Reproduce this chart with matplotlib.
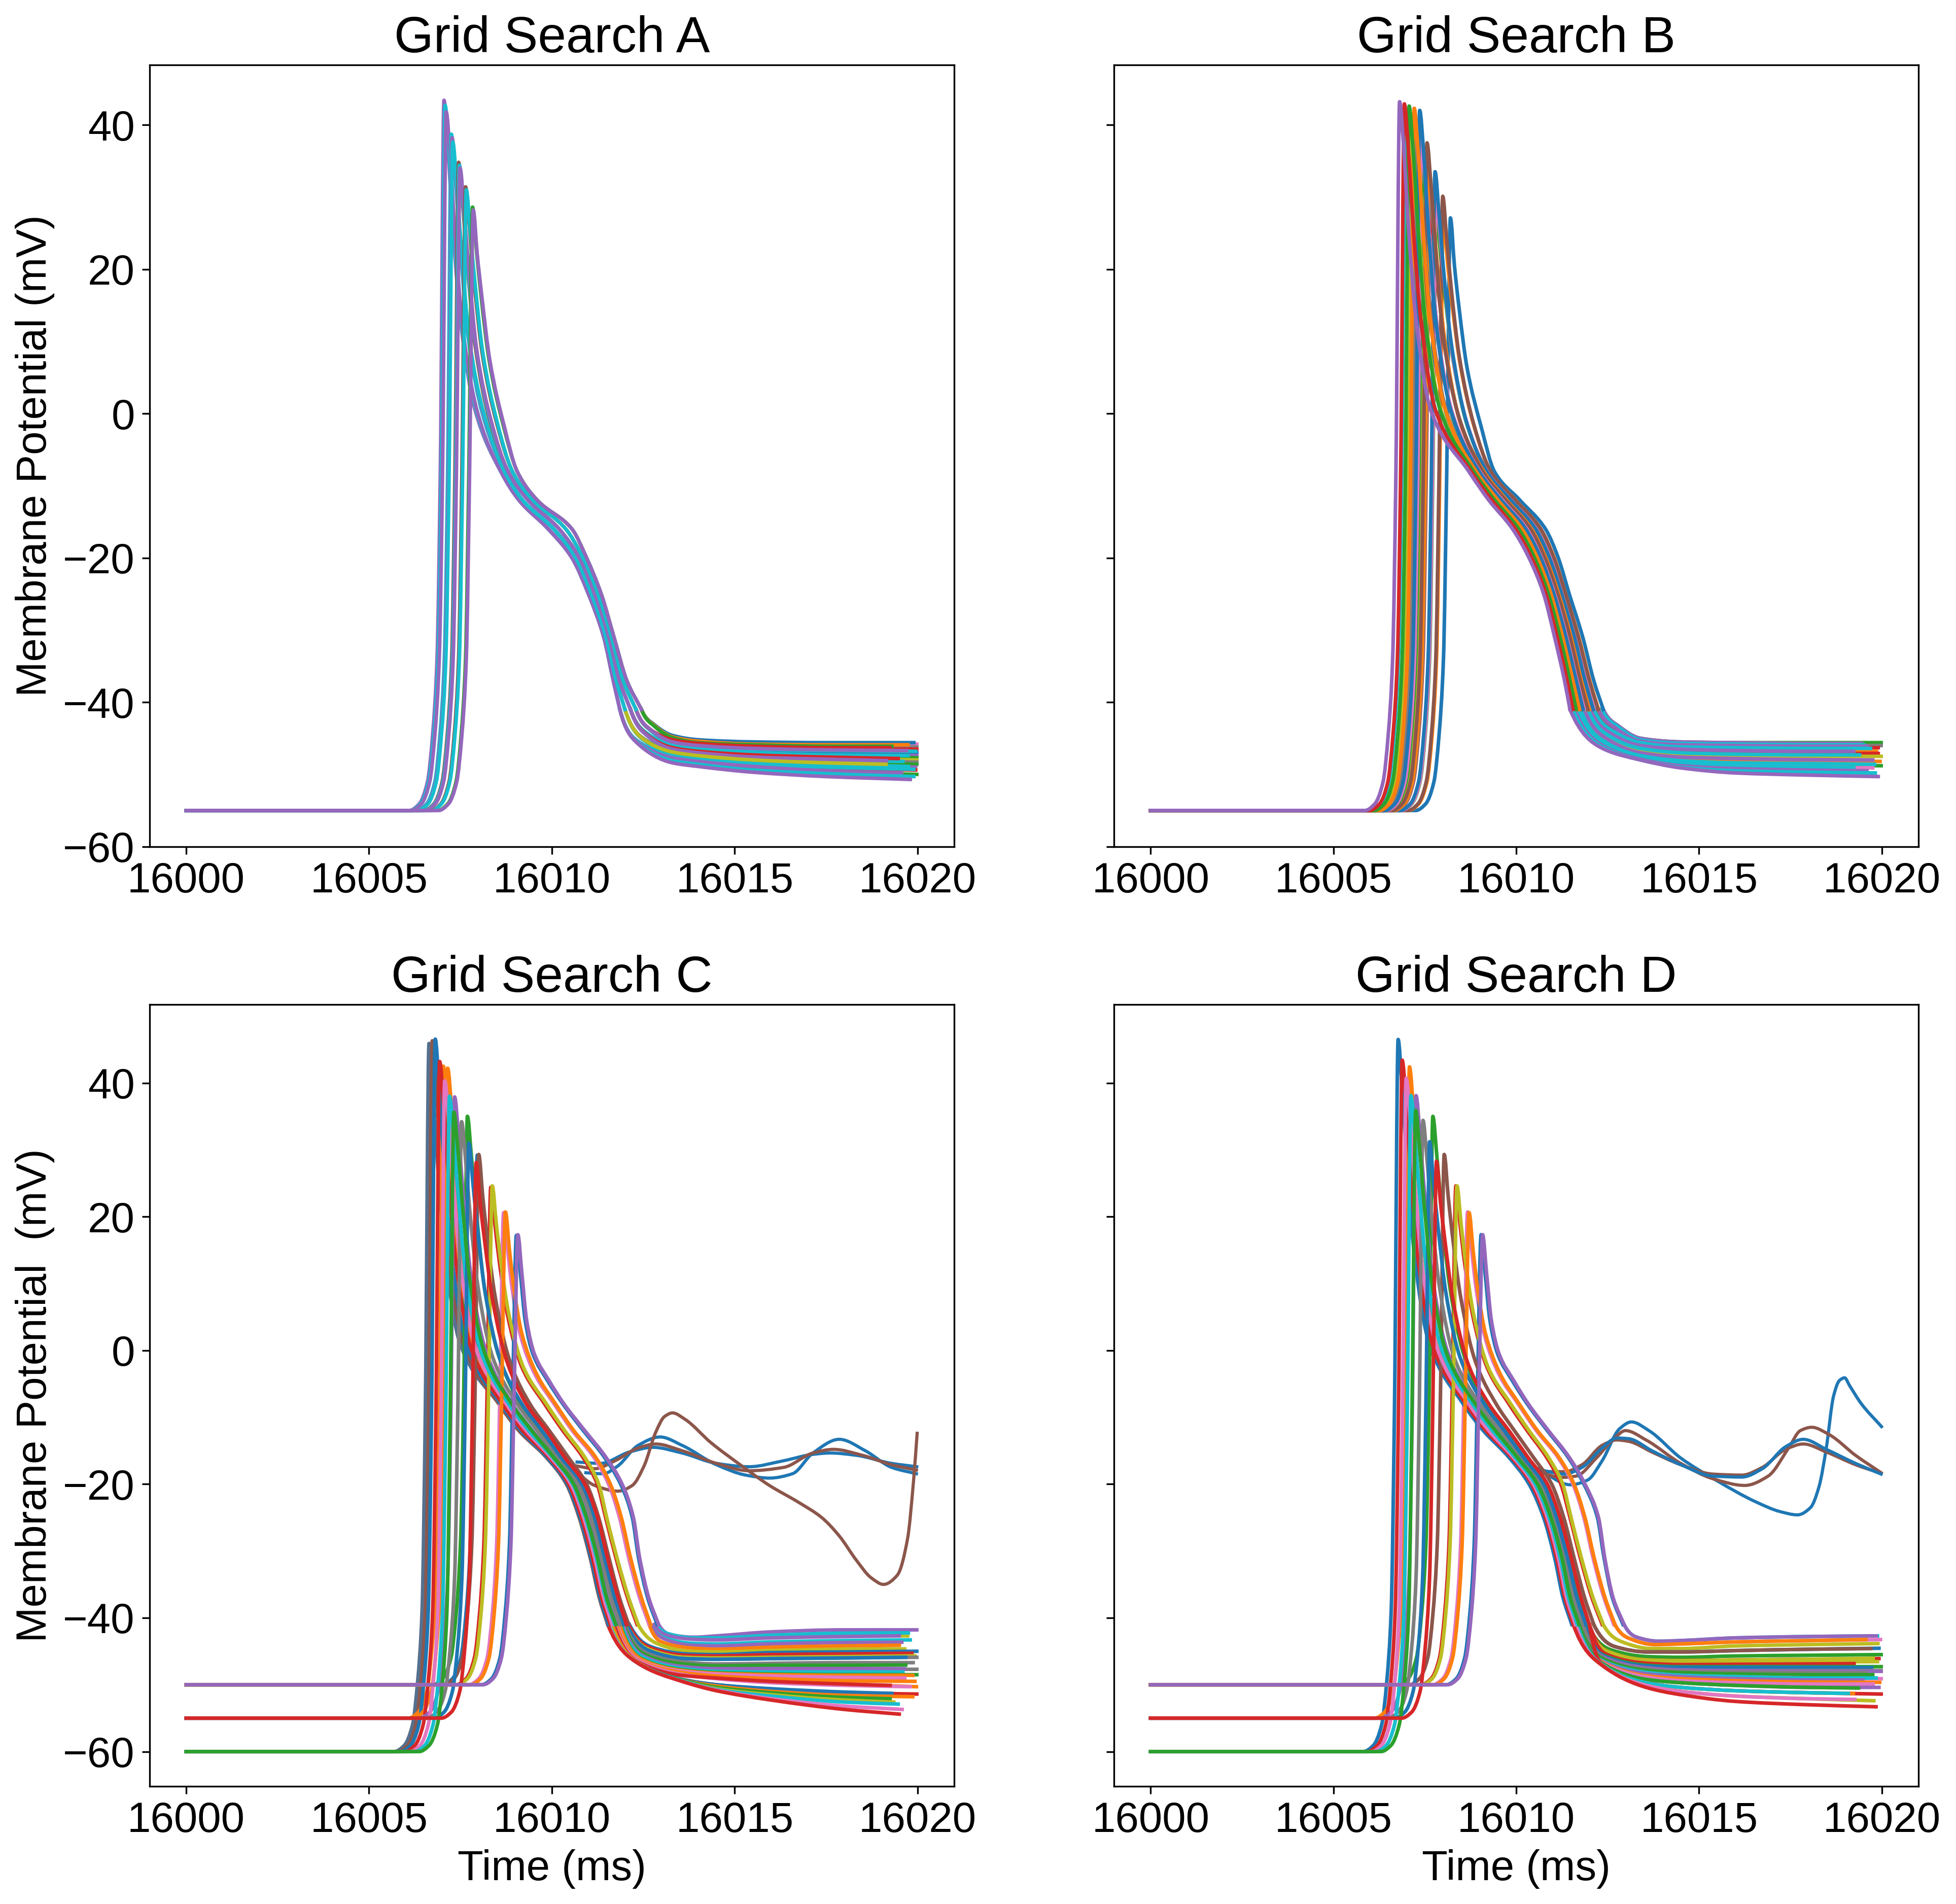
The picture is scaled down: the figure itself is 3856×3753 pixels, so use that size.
import numpy as np
import matplotlib
matplotlib.use('Agg')
import matplotlib.pyplot as plt
from matplotlib.path import Path
from matplotlib.patches import PathPatch

plt.rcParams['font.family'] = ['Liberation Sans', 'DejaVu Sans']

T0 = 16000  # all times below are ms after this

# voltage levels the traces pass through, same for all traces
foot_levels = {
    -60: [-60, -60, -59.1, -56, -49.5, -39, -9],
    -55: [-55, -55, -54.1, -51, -44.5, -34, -8],
    -50: [-50, -50, -49.1, -46, -39.5, -29, -6],
}
repol_levels = [-8, -12, -16, -20, -25, -31, -37, -41]

# ---- Grid Search A ----
a_colors = ['C4', 'C9', 'C4', 'C9', 'C4', 'C9', 'C5', 'C9', 'C4', 'C5', 'C9', 'C2', 'C4']
a_rest = [-55] * 13
a_spike_t = [
    [6.1, 6.37, 6.6, 6.74, 6.86, 6.95, 7.05, 7.16, 7.29, 7.5, 7.9],
    [6.13, 6.4, 6.63, 6.77, 6.89, 6.98, 7.08, 7.19, 7.32, 7.53, 7.93],
    [6.16, 6.43, 6.66, 6.8, 6.92, 7.01, 7.11, 7.22, 7.35, 7.56, 7.96],
    [6.3, 6.57, 6.8, 6.94, 7.06, 7.15, 7.25, 7.36, 7.49, 7.7, 8.1],
    [6.32, 6.59, 6.82, 6.96, 7.08, 7.17, 7.27, 7.38, 7.51, 7.72, 8.12],
    [6.34, 6.61, 6.84, 6.98, 7.1, 7.19, 7.29, 7.4, 7.53, 7.74, 8.14],
    [6.5, 6.77, 7.0, 7.14, 7.26, 7.35, 7.45, 7.56, 7.69, 7.9, 8.3],
    [6.52, 6.79, 7.02, 7.16, 7.28, 7.37, 7.47, 7.58, 7.71, 7.92, 8.32],
    [6.54, 6.81, 7.04, 7.18, 7.3, 7.39, 7.49, 7.6, 7.73, 7.94, 8.34],
    [6.69, 6.96, 7.19, 7.33, 7.45, 7.54, 7.64, 7.75, 7.88, 8.09, 8.49],
    [6.71, 6.98, 7.21, 7.35, 7.47, 7.56, 7.66, 7.77, 7.9, 8.11, 8.51],
    [6.88, 7.15, 7.38, 7.52, 7.64, 7.73, 7.83, 7.94, 8.07, 8.28, 8.68],
    [6.9, 7.17, 7.4, 7.54, 7.66, 7.75, 7.85, 7.96, 8.09, 8.3, 8.7],
]
a_spike_v = [
    [43.4, 36.5, 26, 13, 0.5], [42.7, 36, 25.5, 12.5, 0.5], [41.8, 35.5, 25, 12, 0.3],
    [38.7, 32.5, 23.5, 11, 0], [38.2, 32, 23, 11, 0], [37.6, 31.5, 22.5, 10.5, 0],
    [34.8, 29, 20.5, 9.5, -1], [34.4, 28.5, 20, 9.5, -1], [34.0, 28, 20, 9, -1],
    [31.4, 25.5, 18, 8.5, -1.3], [31.0, 25, 18, 8.5, -1.3],
    [28.6, 22.5, 16, 7.5, -1.8], [28.2, 22, 16, 7.5, -1.8],
]
a_repol_t = [
    [8.6, 9.1, 9.9, 10.55, 11.0, 11.42, 11.68, 11.86],
    [8.6, 9.1, 9.9, 10.55, 11.0, 11.42, 11.68, 11.86],
    [8.6, 9.1, 9.9, 10.55, 11.0, 11.42, 11.68, 11.86],
    [8.7, 9.2, 10.05, 10.65, 11.08, 11.48, 11.76, 12.0],
    [8.7, 9.2, 10.05, 10.65, 11.08, 11.48, 11.76, 12.0],
    [8.7, 9.2, 10.05, 10.65, 11.08, 11.48, 11.76, 12.0],
    [8.8, 9.35, 10.2, 10.75, 11.17, 11.56, 11.85, 12.15],
    [8.8, 9.35, 10.2, 10.75, 11.17, 11.56, 11.85, 12.15],
    [8.8, 9.35, 10.2, 10.75, 11.17, 11.56, 11.85, 12.15],
    [8.92, 9.48, 10.38, 10.85, 11.26, 11.63, 11.95, 12.3],
    [8.92, 9.48, 10.38, 10.85, 11.26, 11.63, 11.95, 12.3],
    [9.05, 9.6, 10.55, 10.95, 11.35, 11.7, 12.05, 12.45],
    [9.05, 9.6, 10.55, 10.95, 11.35, 11.7, 12.05, 12.45],
]
a_tail_grid = [14, 15.5, 17.5]
# long tails first, the short ones sit on top of them
a_tail_colors = ['C6', 'C7', 'C3', 'C0', 'C4', 'C2', 'C8', 'C7', 'C2', 'C4', 'C3', 'C2',
                 'C0', 'C9', 'C9', 'C9', 'C9', 'C9', 'C4', 'C9', 'C4',
                 'C1', 'C2', 'C3', 'C4', 'C3', 'C4', 'C8']
a_tail_end = [19.98, 19.98, 19.98, 19.98, 19.98, 19.98, 19.98, 19.98, 19.98, 19.95, 19.95, 19.98,
              19.9, 19.95, 19.74, 19.6, 19.75, 19.9, 19.56, 19.9, 19.8,
              19.74, 19.3, 19.24, 19.7, 19.47, 19.15, 19.14]
a_tail_head_t = [
    [12.45, 12.8, 13.3], [12.45, 12.8, 13.3], [12.3, 12.7, 13.3], [12.3, 12.7, 13.3],
    [12.15, 12.6, 13.3], [12.15, 12.6, 13.3], [12.15, 12.6, 13.3], [12.0, 12.5, 13.3],
    [12.0, 12.5, 13.3], [12.0, 12.5, 13.3], [11.86, 12.3, 13.3], [11.86, 12.3, 13.3],
    [12.45, 12.8, 13.3], [12.3, 12.7, 13.3], [12.15, 12.6, 13.3], [12.15, 12.6, 13.3],
    [12.0, 12.5, 13.3], [11.86, 12.3, 13.3], [11.86, 12.3, 13.3], [11.86, 12.3, 13.3],
    [11.86, 12.3, 13.3], [12.45, 12.8, 13.3], [12.45, 12.8, 13.3], [12.3, 12.7, 13.3],
    [12.3, 12.7, 13.3], [12.15, 12.6, 13.3], [12.15, 12.6, 13.3], [12.0, 12.5, 13.3],
]
a_tail_v = [
    [-41, -43.2, -44.7, -45.3, -45.7, -45.8, -45.8],
    [-41, -43.3, -45.0, -45.6, -46.0, -46.2, -46.2],
    [-41, -43.8, -45.4, -45.9, -46.3, -46.4, -46.5],
    [-41, -43.9, -45.7, -46.2, -46.6, -46.9, -47.0],
    [-41, -44.3, -46.0, -46.5, -47.0, -47.3, -47.4],
    [-41, -44.4, -46.2, -46.7, -47.2, -47.5, -47.7],
    [-41, -44.5, -46.4, -46.9, -47.5, -47.8, -48.0],
    [-41, -45.0, -46.7, -47.2, -47.7, -48.1, -48.3],
    [-41, -45.1, -46.9, -47.4, -48.0, -48.4, -48.6],
    [-41, -45.2, -47.2, -47.7, -48.3, -48.7, -49.0],
    [-41, -45.2, -47.5, -48.0, -48.7, -49.1, -49.4],
    [-41, -45.3, -47.9, -48.4, -49.1, -49.6, -50.0],
    [-41, -43.1, -44.6, -45.2, -45.5, -45.6, -45.6],
    [-41, -43.9, -45.6, -46.1, -46.5, -46.7, -46.8],
    [-41, -44.3, -46.0, -46.5, -47.0, -47.3, -47.4],
    [-41, -44.6, -46.6, -47.1, -47.6, -48.0, -48.2],
    [-41, -45.2, -47.1, -47.6, -48.2, -48.6, -48.9],
    [-41, -45.2, -47.4, -47.9, -48.6, -49.0, -49.3],
    [-41, -45.3, -47.7, -48.2, -48.9, -49.5, -49.8],
    [-41, -45.4, -48.1, -48.6, -49.4, -49.9, -50.3],
    [-41, -45.5, -48.4, -48.9, -49.7, -50.3, -50.7],
    [-41, -43.2, -44.8, -45.4, -45.8, -45.9, -45.9],
    [-41, -43.3, -44.9, -45.6, -45.9, -46.1, -46.1],
    [-41, -43.8, -45.2, -45.7, -46.1, -46.3, -46.3],
    [-41, -43.8, -45.5, -46.0, -46.4, -46.6, -46.7],
    [-41, -44.5, -46.3, -46.8, -47.3, -47.6, -47.8],
    [-41, -44.6, -46.5, -47.0, -47.6, -47.9, -48.1],
    [-41, -45.1, -46.9, -47.4, -48.0, -48.4, -48.6],
]

# ---- Grid Search B ----
b_colors = ['C0', 'C1', 'C2', 'C3', 'C4', 'C5', 'C6', 'C7', 'C8', 'C9',
            'C0', 'C1', 'C2', 'C3', 'C4', 'C5', 'C6', 'C7', 'C8', 'C9',
            'C0', 'C1', 'C2', 'C3', 'C4']
b_rest = [-55] * 25
b_spike_t = [
    [7.25, 7.52, 7.75, 7.89, 8.01, 8.1, 8.2, 8.31, 8.44, 8.65, 9.05],
    [7.06, 7.33, 7.56, 7.7, 7.82, 7.91, 8.01, 8.12, 8.25, 8.46, 8.86],
    [6.87, 7.14, 7.37, 7.51, 7.63, 7.72, 7.82, 7.93, 8.06, 8.27, 8.67],
    [6.69, 6.96, 7.19, 7.33, 7.45, 7.54, 7.64, 7.75, 7.88, 8.09, 8.49],
    [6.52, 6.79, 7.02, 7.16, 7.28, 7.37, 7.47, 7.58, 7.71, 7.92, 8.32],
    [7.04, 7.31, 7.54, 7.68, 7.8, 7.89, 7.99, 8.1, 8.23, 8.44, 8.84],
    [6.86, 7.13, 7.36, 7.5, 7.62, 7.71, 7.81, 7.92, 8.05, 8.26, 8.66],
    [6.68, 6.95, 7.18, 7.32, 7.44, 7.53, 7.63, 7.74, 7.87, 8.08, 8.48],
    [6.51, 6.78, 7.01, 7.15, 7.27, 7.36, 7.46, 7.57, 7.7, 7.91, 8.31],
    [6.35, 6.62, 6.85, 6.99, 7.11, 7.2, 7.3, 7.41, 7.54, 7.75, 8.15],
    [6.83, 7.1, 7.33, 7.47, 7.59, 7.68, 7.78, 7.89, 8.02, 8.23, 8.63],
    [6.66, 6.93, 7.16, 7.3, 7.42, 7.51, 7.61, 7.72, 7.85, 8.06, 8.46],
    [6.49, 6.76, 6.99, 7.13, 7.25, 7.34, 7.44, 7.55, 7.68, 7.89, 8.29],
    [6.34, 6.61, 6.84, 6.98, 7.1, 7.19, 7.29, 7.4, 7.53, 7.74, 8.14],
    [6.19, 6.46, 6.69, 6.83, 6.95, 7.04, 7.14, 7.25, 7.38, 7.59, 7.99],
    [6.61, 6.88, 7.11, 7.25, 7.37, 7.46, 7.56, 7.67, 7.8, 8.01, 8.41],
    [6.46, 6.73, 6.96, 7.1, 7.22, 7.31, 7.41, 7.52, 7.65, 7.86, 8.26],
    [6.31, 6.58, 6.81, 6.95, 7.07, 7.16, 7.26, 7.37, 7.5, 7.71, 8.11],
    [6.17, 6.44, 6.67, 6.81, 6.93, 7.02, 7.12, 7.23, 7.36, 7.57, 7.97],
    [6.02, 6.29, 6.52, 6.66, 6.78, 6.87, 6.97, 7.08, 7.21, 7.42, 7.82],
    [6.41, 6.68, 6.91, 7.05, 7.17, 7.26, 7.36, 7.47, 7.6, 7.81, 8.21],
    [6.26, 6.53, 6.76, 6.9, 7.02, 7.11, 7.21, 7.32, 7.45, 7.66, 8.06],
    [6.12, 6.39, 6.62, 6.76, 6.88, 6.97, 7.07, 7.18, 7.31, 7.52, 7.92],
    [5.99, 6.26, 6.49, 6.63, 6.75, 6.84, 6.94, 7.05, 7.18, 7.39, 7.79],
    [5.86, 6.13, 6.36, 6.5, 6.62, 6.71, 6.81, 6.92, 7.05, 7.26, 7.66],
]
b_spike_v = [
    [27.1, 20.5, 14.5, 6.5, -2], [27.7, 21, 15, 7, -2], [28.5, 22, 16, 7.5, -1.8],
    [29.2, 23, 16.5, 8, -1.6], [30, 24, 17, 8, -1.5], [30.1, 24, 17, 8, -1.5],
    [30.6, 24.5, 17.5, 8, -1.4], [31.3, 25.5, 18, 8.5, -1.3], [32, 26, 18.5, 9, -1.2],
    [32.8, 27, 19, 9, -1.1], [33.5, 27.5, 19.5, 9.5, -1], [34, 28, 20, 9.5, -1],
    [34.5, 28.5, 20.5, 9.5, -0.9], [35.1, 29, 21, 10, -0.7], [35.8, 30, 21.5, 10, -0.5],
    [37.5, 31.5, 22.5, 10.5, -0.1], [37.8, 32, 23, 11, 0], [38.3, 32, 23, 11, 0],
    [38.8, 32.5, 23.5, 11, 0], [39.2, 33, 23.5, 11.5, 0.1], [42, 36, 25.5, 12.5, 0.5],
    [42.3, 36, 25.5, 12.5, 0.5], [42.6, 36.5, 26, 12.5, 0.5], [42.9, 36.5, 26, 13, 0.5],
    [43.2, 37, 26, 13, 0.5],
]
b_repol_t = [
    [9.4, 10.1, 10.8, 11.15, 11.45, 11.82, 12.12, 12.38],
    [9.3, 9.98, 10.67, 11.04, 11.35, 11.71, 12.01, 12.25],
    [9.21, 9.87, 10.56, 10.93, 11.26, 11.61, 11.9, 12.13],
    [9.12, 9.76, 10.44, 10.83, 11.17, 11.51, 11.8, 12.02],
    [9.03, 9.65, 10.32, 10.73, 11.08, 11.41, 11.7, 11.9],
    [9.3, 9.97, 10.67, 11.03, 11.35, 11.7, 12.0, 12.24],
    [9.2, 9.86, 10.55, 10.93, 11.25, 11.6, 11.9, 12.13],
    [9.12, 9.76, 10.44, 10.83, 11.17, 11.51, 11.8, 12.02],
    [9.03, 9.65, 10.32, 10.73, 11.08, 11.41, 11.7, 11.9],
    [8.95, 9.55, 10.22, 10.63, 11.0, 11.32, 11.6, 11.79],
    [9.19, 9.85, 10.53, 10.91, 11.24, 11.59, 11.88, 12.11],
    [9.11, 9.74, 10.42, 10.81, 11.16, 11.5, 11.78, 12.0],
    [9.02, 9.63, 10.31, 10.71, 11.07, 11.4, 11.68, 11.88],
    [8.94, 9.54, 10.21, 10.62, 10.99, 11.31, 11.59, 11.78],
    [8.87, 9.45, 10.12, 10.54, 10.92, 11.23, 11.51, 11.69],
    [9.08, 9.71, 10.39, 10.78, 11.13, 11.47, 11.75, 11.96],
    [9.0, 9.62, 10.29, 10.69, 11.05, 11.38, 11.66, 11.86],
    [8.92, 9.52, 10.19, 10.61, 10.97, 11.3, 11.58, 11.76],
    [8.85, 9.44, 10.1, 10.53, 10.9, 11.22, 11.5, 11.67],
    [8.78, 9.35, 10.01, 10.45, 10.83, 11.14, 11.42, 11.58],
    [8.98, 9.59, 10.26, 10.67, 11.03, 11.36, 11.64, 11.83],
    [8.9, 9.5, 10.16, 10.58, 10.95, 11.27, 11.55, 11.73],
    [8.83, 9.41, 10.07, 10.5, 10.88, 11.2, 11.47, 11.64],
    [8.76, 9.33, 9.98, 10.42, 10.81, 11.12, 11.39, 11.55],
    [8.7, 9.25, 9.9, 10.35, 10.75, 11.05, 11.32, 11.47],
]
b_tail_grid = [14.5, 16, 18]
b_tail_colors = ['C2', 'C7', 'C3', 'C1', 'C3', 'C8', 'C1', 'C2', 'C8', 'C6',
                 'C4', 'C9', 'C4', 'C9', 'C4', 'C9', 'C4', 'C9', 'C9', 'C4', 'C9', 'C4']
b_tail_end = [19.98, 19.98, 19.9, 19.85, 19.9, 19.98, 19.95, 19.98, 19.6, 19.75,
              19.44, 19.5, 19.6, 19.69, 19.23, 19.39, 19.75, 19.8, 19.23, 19.59, 19.82, 19.9]
b_tail_head_t = [
    [12.38, 12.8, 13.4], [12.3, 12.75, 13.4], [12.2, 12.7, 13.4], [12.1, 12.6, 13.4],
    [12.0, 12.55, 13.4], [11.95, 12.5, 13.4], [11.85, 12.45, 13.4], [11.75, 12.4, 13.4],
    [11.7, 12.35, 13.4], [11.65, 12.35, 13.4],
    [12.38, 12.8, 13.4], [12.34, 12.78, 13.4], [12.25, 12.72, 13.4], [12.13, 12.65, 13.4],
    [12.02, 12.58, 13.4], [11.96, 12.52, 13.4], [11.86, 12.46, 13.4], [11.76, 12.4, 13.4],
    [11.67, 12.36, 13.4], [11.6, 12.36, 13.4], [11.55, 12.36, 13.4], [11.47, 12.36, 13.4],
]
b_tail_v = [
    [-41, -43.3, -45.0, -45.5, -45.6, -45.6, -45.6],
    [-41, -43.5, -45.3, -45.8, -45.9, -46.0, -46.0],
    [-41, -43.8, -45.5, -46.1, -46.2, -46.3, -46.3],
    [-41, -44.1, -45.9, -46.5, -46.7, -46.8, -46.8],
    [-41, -44.4, -46.2, -46.8, -47.0, -47.1, -47.1],
    [-41, -44.7, -46.6, -47.2, -47.4, -47.5, -47.5],
    [-41, -45.1, -47.1, -47.7, -48.0, -48.1, -48.2],
    [-41, -45.5, -47.5, -48.2, -48.5, -48.7, -48.8],
    [-41, -45.7, -47.7, -48.5, -48.8, -49.0, -49.1],
    [-41, -45.8, -47.8, -48.5, -48.8, -49.0, -49.1],
    [-41, -43.3, -45.0, -45.5, -45.6, -45.7, -45.7],
    [-41, -43.4, -45.2, -45.7, -45.8, -45.9, -45.9],
    [-41, -43.6, -45.4, -45.9, -46.0, -46.1, -46.1],
    [-41, -44.0, -45.6, -46.2, -46.3, -46.4, -46.4],
    [-41, -44.3, -46.0, -46.5, -46.7, -46.8, -46.8],
    [-41, -44.6, -46.4, -47.0, -47.2, -47.3, -47.3],
    [-41, -45.0, -47.0, -47.6, -47.8, -47.95, -48.0],
    [-41, -45.4, -47.4, -48.1, -48.4, -48.5, -48.6],
    [-41, -45.8, -47.7, -48.5, -48.9, -49.0, -49.1],
    [-41, -46.0, -47.9, -48.8, -49.2, -49.4, -49.5],
    [-41, -46.2, -48.0, -49.0, -49.5, -49.7, -49.8],
    [-41, -46.4, -48.0, -49.1, -49.8, -50.1, -50.3],
]

# ---- Grid Search C ----
c_colors = ['#55708f', 'C5', 'C1', 'C3', 'C6', 'C0', 'C0',
            'C0', 'C1', 'C2', 'C3', 'C4', 'C5', 'C6', 'C7', 'C8', 'C9',
            'C0', 'C1', 'C2', 'C3', 'C4']
c_rest = [-60, -60, -55, -50, -50, -50, -50,
          -60, -55, -50, -60, -55, -50, -60, -55, -50, -60,
          -55, -50, -60, -55, -50]
c_spike_t = [
    [5.69, 5.96, 6.19, 6.33, 6.45, 6.54, 6.64, 6.75, 6.88, 7.09, 7.49],
    [5.78, 6.05, 6.28, 6.42, 6.54, 6.63, 6.73, 6.84, 6.97, 7.18, 7.58],
    [6.08, 6.35, 6.58, 6.72, 6.84, 6.93, 7.03, 7.14, 7.27, 7.48, 7.88],
    [7.38, 7.65, 7.88, 8.02, 8.14, 8.23, 8.33, 8.44, 8.57, 8.78, 9.18],
    [7.73, 8.0, 8.23, 8.37, 8.49, 8.58, 8.68, 8.79, 8.92, 9.13, 9.53],
    [8.08, 8.35, 8.58, 8.72, 8.84, 8.93, 9.03, 9.14, 9.27, 9.48, 9.88],
    [7.01, 7.28, 7.51, 7.65, 7.77, 7.86, 7.96, 8.07, 8.2, 8.41, 8.81],
    [5.86, 6.13, 6.36, 6.5, 6.62, 6.71, 6.81, 6.92, 7.05, 7.26, 7.66],
    [6.2, 6.47, 6.7, 6.84, 6.96, 7.05, 7.15, 7.26, 7.39, 7.6, 8.0],
    [6.74, 7.01, 7.24, 7.38, 7.5, 7.59, 7.69, 7.8, 7.93, 8.14, 8.54],
    [5.98, 6.25, 6.48, 6.62, 6.74, 6.83, 6.93, 7.04, 7.17, 7.38, 7.78],
    [6.39, 6.66, 6.89, 7.03, 7.15, 7.24, 7.34, 7.45, 7.58, 7.79, 8.19],
    [7.05, 7.32, 7.55, 7.69, 7.81, 7.9, 8.0, 8.11, 8.24, 8.45, 8.85],
    [6.12, 6.39, 6.62, 6.76, 6.88, 6.97, 7.07, 7.18, 7.31, 7.52, 7.92],
    [6.58, 6.85, 7.08, 7.22, 7.34, 7.43, 7.53, 7.64, 7.77, 7.98, 8.38],
    [7.42, 7.69, 7.92, 8.06, 8.18, 8.27, 8.37, 8.48, 8.61, 8.82, 9.22],
    [6.25, 6.52, 6.75, 6.89, 7.01, 7.1, 7.2, 7.31, 7.44, 7.65, 8.05],
    [6.78, 7.05, 7.28, 7.42, 7.54, 7.63, 7.73, 7.84, 7.97, 8.18, 8.58],
    [7.78, 8.05, 8.28, 8.42, 8.54, 8.63, 8.73, 8.84, 8.97, 9.18, 9.58],
    [6.37, 6.64, 6.87, 7.01, 7.13, 7.22, 7.32, 7.43, 7.56, 7.77, 8.17],
    [6.98, 7.25, 7.48, 7.62, 7.74, 7.83, 7.93, 8.04, 8.17, 8.38, 8.78],
    [8.12, 8.39, 8.62, 8.76, 8.88, 8.97, 9.07, 9.18, 9.31, 9.52, 9.92],
]
c_spike_v = [
    [45.9, 38.5, 27.5, 14, 1], [46.3, 39, 28, 14, 1], [42.5, 36, 25.5, 12.5, 0.5],
    [24.4, 19, 13, 5.5, -2.5], [20.6, 15, 9, 2.5, -3.5], [17.2, 11.5, 4.5, -0.5, -4.5],
    [29.2, 23, 16.5, 8, -1.6],
    [46.55, 39, 28, 14, 1], [42.2, 36, 25.5, 12.5, 0.5], [35, 29, 21, 10, -0.7],
    [43.2, 37, 26, 13, 0.5], [37.9, 32, 23, 11, 0], [29.3, 23, 16.5, 8, -1.6],
    [40.3, 34.5, 24.5, 12, 0.3], [34.2, 28.5, 20, 9.5, -1], [24.6, 19, 13, 5.5, -2.5],
    [38, 32, 23, 11, 0], [31, 25, 18, 8.5, -1.3], [20.7, 15, 9, 2.5, -3.5],
    [35.6, 30, 21.5, 10, -0.5], [28.1, 22, 16, 7.5, -1.8], [17.3, 11.5, 4.5, -0.5, -4.5],
]
c_repol_t = [
    [8.55, 9.1, 9.85, 10.4, 10.75, 11.05, 11.3, 11.53],
    [8.55, 9.1, 9.85, 10.4, 10.75, 11.05, 11.3, 11.53],
    [8.72, 9.27, 9.96, 10.5, 10.85, 11.15, 11.4, 11.64],
    [9.8, 10.3, 10.85, 11.24, 11.47, 11.75, 12.07, 12.33],
    [10.06, 10.56, 11.15, 11.55, 11.85, 12.1, 12.4, 12.66],
    [10.3, 10.86, 11.44, 11.88, 12.2, 12.37, 12.62, 12.88],
    [9.35, 9.88, 10.4, 10.92, 11.26, 11.54, 11.83, 12.07],
    [8.6, 9.15, 9.87, 10.42, 10.77, 11.07, 11.32, 11.55],
    [8.8, 9.35, 10.0, 10.55, 10.9, 11.2, 11.45, 11.7],
    [9.15, 9.7, 10.23, 10.8, 11.15, 11.42, 11.7, 11.95],
    [8.65, 9.2, 9.92, 10.46, 10.81, 11.11, 11.36, 11.6],
    [8.92, 9.47, 10.07, 10.62, 10.97, 11.27, 11.52, 11.77],
    [9.4, 9.93, 10.45, 10.95, 11.28, 11.56, 11.85, 12.1],
    [8.75, 9.3, 9.97, 10.52, 10.87, 11.17, 11.42, 11.65],
    [9.05, 9.6, 10.15, 10.72, 11.07, 11.36, 11.62, 11.87],
    [9.85, 10.35, 10.9, 11.28, 11.5, 11.78, 12.1, 12.36],
    [8.82, 9.37, 10.02, 10.57, 10.92, 11.22, 11.47, 11.72],
    [9.18, 9.73, 10.25, 10.82, 11.17, 11.44, 11.72, 11.97],
    [10.1, 10.6, 11.2, 11.6, 11.9, 12.15, 12.45, 12.7],
    [8.9, 9.45, 10.05, 10.6, 10.95, 11.25, 11.5, 11.75],
    [9.3, 9.85, 10.35, 10.9, 11.25, 11.52, 11.81, 12.04],
    [10.33, 10.9, 11.48, 11.92, 12.23, 12.4, 12.65, 12.92],
]
c_tail_grid = [14.5, 16, 18]
c_tail_colors = ['C4', 'C8', 'C9', 'C4', 'C9', 'C4', 'C1', 'C8', 'C0', 'C3', 'C8', 'C7', 'C0',
                 'C7', 'C2', 'C7', 'C4', 'C9', 'C2', 'C1', 'C6', 'C1', 'C1', 'C6', 'C3',
                 'C3', 'C0', 'C1', 'C2', 'C8', 'C9', 'C6', 'C3']
c_tail_end = [19.98, 19.73, 19.75, 19.5, 19.8, 19.57, 19.5, 19.65, 19.98, 19.85, 19.93, 19.98, 19.68,
              19.88, 19.68, 19.98, 19.65, 19.6, 19.98, 19.87, 19.65, 19.93, 19.97, 19.8, 19.25,
              19.98, 19.3, 19.87, 19.25, 19.35, 19.47, 19.58, 19.5]
c_tail_head_t = [
    [12.92, 13.24, 13.88], [12.8, 13.15, 13.85], [12.85, 13.2, 13.88], [12.8, 13.15, 13.85],
    [12.7, 13.1, 13.82], [12.7, 13.1, 13.82], [12.66, 13.0, 13.8], [12.36, 12.95, 13.75],
    [12.12, 12.75, 13.7], [12.1, 12.7, 13.65], [12.05, 12.7, 13.65], [12.05, 12.7, 13.65], [12.05, 12.7, 13.65],
    [12.0, 12.6, 13.6], [11.97, 12.55, 13.6], [11.95, 12.5, 13.6], [11.95, 12.5, 13.6], [11.9, 12.5, 13.6],
    [11.87, 12.45, 13.6], [11.85, 12.45, 13.6], [11.8, 12.4, 13.6], [11.77, 12.4, 13.6], [11.75, 12.4, 13.6],
    [11.72, 12.4, 13.6], [11.7, 12.36, 13.56], [11.7, 12.36, 13.56], [11.65, 12.36, 13.56], [11.65, 12.36, 13.56],
    [11.6, 12.36, 13.56], [11.6, 12.36, 13.56], [11.57, 12.36, 13.56], [11.55, 12.36, 13.56], [11.53, 12.36, 13.56],
]
c_tail_v = [
    [-41, -42.5, -42.9, -42.7, -42.1, -41.8, -41.8],
    [-41, -42.6, -43.1, -43.2, -42.9, -42.7, -42.7],
    [-41, -42.4, -43.0, -43.0, -42.6, -42.3, -42.25],
    [-41, -42.6, -43.2, -43.3, -43.0, -42.8, -42.7],
    [-41, -43.0, -43.8, -43.9, -43.6, -43.4, -43.3],
    [-41, -43.2, -44.1, -44.2, -43.9, -43.7, -43.65],
    [-41, -43.6, -44.5, -44.7, -44.4, -44.2, -44.1],
    [-41, -44.0, -45.0, -45.1, -44.9, -44.7, -44.65],
    [-41, -44.4, -45.4, -45.5, -45.2, -45.1, -45.0],
    [-41, -44.5, -45.6, -45.7, -45.5, -45.4, -45.3],
    [-41, -44.8, -45.9, -46.0, -45.9, -45.8, -45.7],
    [-41, -45.0, -46.1, -46.2, -46.1, -46.0, -45.9],
    [-41, -45.0, -46.1, -46.2, -46.1, -46.0, -45.9],
    [-41, -45.3, -46.6, -46.9, -46.8, -46.7, -46.7],
    [-41, -45.5, -46.9, -47.2, -47.1, -47.1, -47.05],
    [-41, -45.7, -47.4, -47.7, -47.7, -47.7, -47.7],
    [-41, -45.7, -47.3, -47.6, -47.6, -47.6, -47.6],
    [-41, -45.9, -47.6, -48.0, -48.1, -48.1, -48.1],
    [-41, -46.1, -47.8, -48.2, -48.4, -48.5, -48.5],
    [-41, -46.2, -47.9, -48.3, -48.5, -48.6, -48.6],
    [-41, -46.3, -48.0, -48.4, -48.7, -48.9, -49.0],
    [-41, -46.4, -48.2, -48.7, -49.1, -49.4, -49.5],
    [-41, -46.5, -48.4, -49.0, -49.5, -49.9, -50.3],
    [-41, -46.5, -48.5, -49.1, -49.7, -50.1, -50.3],
    [-41, -46.6, -48.6, -49.0, -49.5, -49.9, -50.1],
    [-41, -46.7, -49.2, -50.0, -50.7, -51.2, -51.4],
    [-41, -46.7, -49.2, -50.0, -50.6, -51.1, -51.3],
    [-41, -46.7, -49.3, -50.2, -51.0, -51.6, -51.8],
    [-41, -46.8, -49.3, -50.4, -51.2, -51.9, -52.1],
    [-41, -46.8, -49.4, -50.6, -51.5, -52.3, -52.6],
    [-41, -46.8, -49.4, -50.7, -51.7, -52.6, -52.9],
    [-41, -46.8, -49.5, -50.8, -52.1, -53.2, -53.7],
    [-41, -46.8, -49.5, -50.9, -52.3, -53.7, -54.4],
]
# the few runs that keep oscillating instead of repolarising
c_osc_colors = ['C0', 'C0', 'C5', 'C5']
c_osc_t = [
    [10.69, 11.33, 12.12, 12.76, 13.56, 14.5, 15.39, 16.34, 17.14, 17.62, 18.33, 19.29, 19.98],
    [10.93, 11.4, 11.8, 12.36, 12.96, 13.56, 14.5, 15.3, 15.95, 16.58, 17.14, 17.86, 18.57, 19.29, 19.97],
    [10.69, 11.17, 11.73, 12.36, 12.84, 13.56, 14.5, 15.39, 16.34, 17.14, 17.7, 18.5, 19.29, 19.97],
    [10.69, 11.17, 11.81, 12.2, 12.52, 12.84, 13.08, 13.3, 13.64, 14.35, 15.15, 15.95, 16.74, 17.38,
     17.86, 18.33, 18.73, 19.07, 19.45, 19.73, 19.89, 19.99],
]
c_osc_v = [
    [-16.7, -16.9, -15.2, -14.5, -15.35, -16.9, -17.4, -16.5, -15.55, -15.35, -15.7, -16.9, -17.4],
    [-18.3, -18.45, -17.3, -14.2, -12.95, -14.2, -17.1, -18.65, -19.1, -18.45, -15.35, -13.3, -15, -17.5, -18.45],
    [-17.3, -17.7, -16.5, -14.6, -14, -15, -16.9, -18, -17.5, -15.35, -14.8, -15.7, -17.1, -17.9],
    [-18.3, -20.2, -21.05, -20.2, -17.3, -12.25, -9.9, -9.35, -10.3, -13.8, -17.1, -20.2, -22.7, -25,
     -27.75, -31.4, -34, -35, -33.6, -28.1, -19.6, -12.4],
]

# ---- Grid Search D ----
d_colors = ['C3', 'C6', 'C0',
            'C0', 'C1', 'C2', 'C3', 'C4', 'C5', 'C6', 'C7', 'C8', 'C9',
            'C0', 'C1', 'C2', 'C3', 'C4']
d_rest = [-50, -50, -50,
          -60, -55, -50, -60, -55, -50, -60, -55, -50, -60,
          -55, -50, -60, -55, -50]
d_spike_t = [
    [7.4, 7.67, 7.9, 8.04, 8.16, 8.25, 8.35, 8.46, 8.59, 8.8, 9.2],
    [7.72, 7.99, 8.22, 8.36, 8.48, 8.57, 8.67, 8.78, 8.91, 9.12, 9.52],
    [8.09, 8.36, 8.59, 8.73, 8.85, 8.94, 9.04, 9.15, 9.28, 9.49, 9.89],
    [5.82, 6.09, 6.32, 6.46, 6.58, 6.67, 6.77, 6.88, 7.01, 7.22, 7.62],
    [6.13, 6.4, 6.63, 6.77, 6.89, 6.98, 7.08, 7.19, 7.32, 7.53, 7.93],
    [6.77, 7.04, 7.27, 7.41, 7.53, 7.62, 7.72, 7.83, 7.96, 8.17, 8.57],
    [5.93, 6.2, 6.43, 6.57, 6.69, 6.78, 6.88, 6.99, 7.12, 7.33, 7.73],
    [6.31, 6.58, 6.81, 6.95, 7.07, 7.16, 7.26, 7.37, 7.5, 7.71, 8.11],
    [7.08, 7.35, 7.58, 7.72, 7.84, 7.93, 8.03, 8.14, 8.27, 8.48, 8.88],
    [6.04, 6.31, 6.54, 6.68, 6.8, 6.89, 6.99, 7.1, 7.23, 7.44, 7.84],
    [6.5, 6.77, 7.0, 7.14, 7.26, 7.35, 7.45, 7.56, 7.69, 7.9, 8.3],
    [7.43, 7.7, 7.93, 8.07, 8.19, 8.28, 8.38, 8.49, 8.62, 8.83, 9.23],
    [6.17, 6.44, 6.67, 6.81, 6.93, 7.02, 7.12, 7.23, 7.36, 7.57, 7.97],
    [6.68, 6.95, 7.18, 7.32, 7.44, 7.53, 7.63, 7.74, 7.87, 8.08, 8.48],
    [7.76, 8.03, 8.26, 8.4, 8.52, 8.61, 8.71, 8.82, 8.95, 9.16, 9.56],
    [6.3, 6.57, 6.8, 6.94, 7.06, 7.15, 7.25, 7.36, 7.49, 7.7, 8.1],
    [6.87, 7.14, 7.37, 7.51, 7.63, 7.72, 7.82, 7.93, 8.06, 8.27, 8.67],
    [8.13, 8.4, 8.63, 8.77, 8.89, 8.98, 9.08, 9.19, 9.32, 9.53, 9.93],
]
d_spike_v = [
    [24.6, 19, 13, 5.5, -2.5], [20.7, 15, 9, 2.5, -3.5], [17.3, 11.5, 4.5, -0.5, -4.5],
    [46.5, 39, 28, 14, 1], [42.4, 36, 25.5, 12.5, 0.5], [35, 29, 21, 10, -0.7],
    [43.4, 37, 26, 13, 0.5], [38.1, 32, 23, 11, 0], [29.3, 23, 16.5, 8, -1.6],
    [40.7, 34.5, 24.5, 12, 0.3], [34.4, 28.5, 20, 9.5, -1], [24.6, 19, 13, 5.5, -2.5],
    [38.1, 32, 23, 11, 0], [31.2, 25, 18, 8.5, -1.3], [20.6, 15, 9, 2.5, -3.5],
    [35.9, 30, 21.5, 10, -0.5], [28.3, 22, 16, 7.5, -1.8], [17.3, 11.5, 4.5, -0.5, -4.5],
]
d_repol_t = [
    [9.8, 10.3, 10.83, 11.22, 11.47, 11.75, 12.07, 12.35],
    [10.05, 10.55, 11.14, 11.55, 11.85, 12.1, 12.4, 12.67],
    [10.3, 10.85, 11.42, 11.85, 12.22, 12.4, 12.63, 12.92],
    [8.55, 9.1, 9.8, 10.35, 10.75, 11.05, 11.28, 11.52],
    [8.75, 9.3, 9.95, 10.5, 10.88, 11.18, 11.42, 11.66],
    [9.18, 9.73, 10.25, 10.8, 11.15, 11.45, 11.72, 11.95],
    [8.62, 9.17, 9.87, 10.42, 10.8, 11.1, 11.33, 11.56],
    [8.88, 9.43, 10.03, 10.58, 10.95, 11.25, 11.48, 11.72],
    [9.45, 9.95, 10.47, 10.97, 11.3, 11.58, 11.87, 12.12],
    [8.7, 9.25, 9.92, 10.47, 10.85, 11.15, 11.38, 11.62],
    [9.0, 9.55, 10.12, 10.68, 11.03, 11.33, 11.58, 11.82],
    [9.85, 10.35, 10.88, 11.27, 11.5, 11.78, 12.1, 12.38],
    [8.8, 9.35, 9.97, 10.52, 10.9, 11.2, 11.43, 11.67],
    [9.12, 9.67, 10.2, 10.75, 11.1, 11.4, 11.66, 11.9],
    [10.08, 10.58, 11.17, 11.58, 11.88, 12.13, 12.43, 12.7],
    [8.88, 9.43, 10.03, 10.58, 10.95, 11.25, 11.48, 11.72],
    [9.25, 9.8, 10.32, 10.85, 11.2, 11.5, 11.77, 12.0],
    [10.33, 10.88, 11.45, 11.88, 12.25, 12.42, 12.65, 12.95],
]
d_tail_grid = [14.5, 16, 18]
d_tail_colors = ['C9', 'C4', 'C6', 'C1', 'C8', 'C0', 'C5', 'C2', 'C3', 'C8', 'C8', 'C3',
                 'C2', 'C0', 'C7', 'C4', 'C7', 'C2', 'C6', 'C9', 'C4',
                 'C1', 'C6', 'C4', 'C2', 'C3', 'C1', 'C9', 'C8', 'C6', 'C3']
d_tail_end = [19.88, 19.84, 19.96, 19.56, 19.89, 19.92, 19.7, 19.98, 19.92, 19.76, 19.88, 19.24,
              19.98, 19.72, 19.98, 19.98, 19.56, 19.75, 19.98, 19.84, 19.48,
              19.94, 19.76, 19.92, 19.36, 19.98, 19.22, 19.08, 19.78, 19.26, 19.84]
d_tail_head_t = [
    [12.95, 13.3, 13.9], [12.95, 13.3, 13.9], [12.7, 13.1, 13.8], [12.7, 13.1, 13.8], [12.38, 12.9, 13.7],
    [12.12, 12.7, 13.6], [12.12, 12.7, 13.6], [11.95, 12.6, 13.6], [12.0, 12.5, 13.6], [11.95, 12.5, 13.6],
    [11.9, 12.45, 13.6], [12.0, 12.45, 13.6], [11.72, 12.4, 13.6], [11.9, 12.4, 13.6], [11.82, 12.4, 13.6],
    [11.72, 12.4, 13.6], [11.82, 12.4, 13.6], [11.72, 12.4, 13.6], [11.62, 12.35, 13.6], [11.67, 12.35, 13.6],
    [11.72, 12.35, 13.6], [11.66, 12.35, 13.6], [11.62, 12.35, 13.6], [11.72, 12.35, 13.55], [11.72, 12.35, 13.55],
    [12.0, 12.35, 13.55], [11.66, 12.35, 13.55], [11.67, 12.35, 13.55], [11.6, 12.35, 13.55], [11.62, 12.35, 13.55],
    [11.56, 12.35, 13.55],
]
d_tail_v = [
    [-41, -42.9, -43.5, -43.4, -43.0, -42.8, -42.7],
    [-41, -42.9, -43.5, -43.4, -43.0, -42.8, -42.7],
    [-41, -43.1, -44.0, -43.9, -43.6, -43.4, -43.25],
    [-41, -43.1, -44.0, -43.9, -43.6, -43.4, -43.25],
    [-41, -43.6, -44.6, -44.6, -44.2, -44.0, -43.85],
    [-41, -44.3, -45.1, -45.1, -44.9, -44.7, -44.55],
    [-41, -44.3, -45.1, -45.1, -44.9, -44.7, -44.6],
    [-41, -44.8, -45.8, -45.9, -45.7, -45.6, -45.5],
    [-41, -45.0, -46.3, -46.4, -46.3, -46.2, -46.1],
    [-41, -45.0, -46.3, -46.4, -46.3, -46.2, -46.05],
    [-41, -45.2, -46.6, -46.8, -46.7, -46.6, -46.55],
    [-41, -45.4, -46.8, -47.0, -46.95, -46.9, -46.85],
    [-41, -45.6, -47.1, -47.3, -47.3, -47.3, -47.3],
    [-41, -45.7, -47.2, -47.4, -47.4, -47.4, -47.45],
    [-41, -45.9, -47.5, -47.8, -47.9, -47.9, -47.9],
    [-41, -45.9, -47.5, -47.8, -47.9, -48.0, -48.0],
    [-41, -46.1, -47.7, -48.0, -48.1, -48.2, -48.2],
    [-41, -46.2, -47.9, -48.2, -48.4, -48.5, -48.5],
    [-41, -46.4, -48.2, -48.6, -48.8, -49.0, -49.1],
    [-41, -46.4, -48.2, -48.6, -48.8, -49.0, -49.0],
    [-41, -46.5, -48.4, -48.8, -49.1, -49.3, -49.3],
    [-41, -46.6, -48.7, -49.1, -49.4, -49.6, -49.65],
    [-41, -46.7, -48.9, -49.4, -49.7, -49.9, -49.9],
    [-41, -46.8, -49.2, -49.7, -50.1, -50.4, -50.4],
    [-41, -46.8, -49.2, -49.7, -50.1, -50.4, -50.5],
    [-41, -47.0, -49.7, -50.4, -50.9, -51.2, -51.4],
    [-41, -47.0, -49.7, -50.4, -50.9, -51.2, -51.3],
    [-41, -47.0, -49.7, -50.4, -50.9, -51.2, -51.3],
    [-41, -47.1, -50.1, -51.0, -51.7, -52.1, -52.4],
    [-41, -47.1, -50.1, -51.0, -51.7, -52.1, -52.2],
    [-41, -47.1, -50.4, -51.5, -52.5, -53.0, -53.3],
]
d_osc_colors = ['C0', 'C5', 'C5', 'C0']
d_osc_t = [
    [10.6, 11.48, 11.95, 12.35, 12.83, 13.15, 13.63, 14.5, 15.46, 16.57, 17.21, 17.69, 18.05, 18.28,
     18.48, 18.68, 18.84, 18.98, 19.12, 19.44, 19.99],
    [10.68, 11.24, 11.64, 12.19, 12.67, 12.99, 13.55, 14.5, 15.38, 16.25, 16.89, 17.45, 17.77, 18.08,
     18.56, 19.28, 19.98],
    [10.68, 11.32, 11.8, 12.35, 12.75, 13.07, 13.71, 14.5, 15.38, 16.17, 16.73, 17.37, 17.85, 18.48, 19.28, 19.98],
    [10.68, 11.32, 11.8, 12.35, 12.75, 13.07, 13.71, 14.5, 15.38, 16.17, 16.73, 17.37, 17.85, 18.48, 19.28, 19.98],
]
d_osc_v = [
    [-17.7, -20.1, -19.4, -16.5, -11.7, -10.7, -12, -16.1, -19.4, -22.7, -24.1, -24.6, -23.5, -20.4,
     -14.6, -6.8, -4.5, -4.1, -5.3, -8, -11.4],
    [-18.3, -19, -18.8, -16.1, -13.2, -12, -13.4, -16.9, -19.2, -20.2, -18.8, -14.6, -12, -11.5,
     -12.6, -15.7, -18.3],
    [-18.1, -18.15, -17.1, -14.2, -13.4, -13.6, -15.2, -17.1, -18.5, -18.65, -17.5, -14.8, -14, -15.2, -17.1, -18.4],
    [-17.9, -18.5, -17.5, -14.6, -13.1, -13.2, -15, -17.1, -18.8, -18.95, -17.7, -14.4, -13.3, -14.8, -16.9, -18.5],
]

x_ticks = [16000, 16005, 16010, 16015, 16020]
y_ticks = [-60, -40, -20, 0, 20, 40]


def add_curve(ax, t, v, col, lw=1.5, start_steep=1.0):
    # bezier through the read points (monotone tangents), so no overshoot and round peaks
    x = T0 + np.array(t, dtype=float)
    y = np.array(v, dtype=float)
    h = np.diff(x)
    d = np.diff(y) / h
    m = np.zeros(len(x))
    m[0] = d[0] * start_steep
    m[-1] = d[-1]
    for i in range(1, len(x) - 1):
        if d[i - 1] * d[i] > 0:
            w1 = 2 * h[i] + h[i - 1]
            w2 = h[i] + 2 * h[i - 1]
            m[i] = (w1 + w2) / (w1 / d[i - 1] + w2 / d[i])
    verts = [(x[0], y[0])]
    codes = [Path.MOVETO]
    for i in range(len(h)):
        verts.append((x[i] + h[i] / 3, y[i] + m[i] * h[i] / 3))
        verts.append((x[i + 1] - h[i] / 3, y[i + 1] - m[i + 1] * h[i] / 3))
        verts.append((x[i + 1], y[i + 1]))
        codes += [Path.CURVE4, Path.CURVE4, Path.CURVE4]
    ax.add_patch(PathPatch(Path(verts, codes), fill=False, edgecolor=col, lw=lw,
                           capstyle='projecting', joinstyle='round'))


def plot_fronts(ax, colors, rest, spike_t, spike_v, repol_t):
    for col, r, st, sv, rt in zip(colors, rest, spike_t, spike_v, repol_t):
        add_curve(ax, [0] + st + rt, foot_levels[r] + sv + repol_levels, col, lw=1.7)


def plot_tails(ax, colors, heads, grid, rows, ends):
    for col, head, row, end in zip(colors, heads, rows, ends):
        add_curve(ax, head + grid + [end], row, col, lw=1.7, start_steep=2.0)


fig, axs = plt.subplots(2, 2, figsize=(3856 / 300, 3753 / 300))
fig.subplots_adjust(left=0.0765, right=0.9808, top=0.9659, bottom=0.0618, wspace=0.1988, hspace=0.2023)
ax_a, ax_b, ax_c, ax_d = axs.ravel()

# tails go under the fronts so their starts do not show
plot_tails(ax_a, a_tail_colors, a_tail_head_t, a_tail_grid, a_tail_v, a_tail_end)
plot_fronts(ax_a, a_colors, a_rest, a_spike_t, a_spike_v, a_repol_t)

plot_tails(ax_b, b_tail_colors, b_tail_head_t, b_tail_grid, b_tail_v, b_tail_end)
plot_fronts(ax_b, b_colors, b_rest, b_spike_t, b_spike_v, b_repol_t)

for t, v, col in zip(c_osc_t, c_osc_v, c_osc_colors):
    add_curve(ax_c, t, v, col)
plot_tails(ax_c, c_tail_colors, c_tail_head_t, c_tail_grid, c_tail_v, c_tail_end)
plot_fronts(ax_c, c_colors, c_rest, c_spike_t, c_spike_v, c_repol_t)

for t, v, col in zip(d_osc_t, d_osc_v, d_osc_colors):
    add_curve(ax_d, t, v, col)
plot_tails(ax_d, d_tail_colors, d_tail_head_t, d_tail_grid, d_tail_v, d_tail_end)
plot_fronts(ax_d, d_colors, d_rest, d_spike_t, d_spike_v, d_repol_t)

titles = ['Grid Search A', 'Grid Search B', 'Grid Search C', 'Grid Search D']
for ax, title in zip(axs.ravel(), titles):
    ax.set_title(title, fontsize=24)
    ax.set_xlim(15999, 16021)
    ax.set_xticks(x_ticks)
    ax.set_yticks(y_ticks)
    ax.ticklabel_format(useOffset=False, style='plain', axis='x')
    ax.tick_params(labelsize=20)

for ax in [ax_a, ax_b]:
    ax.set_ylim(-60, 48.3)
for ax in [ax_c, ax_d]:
    ax.set_ylim(-65.2, 51.7)
for ax in [ax_b, ax_d]:
    ax.tick_params(labelleft=False)

ax_a.set_ylabel('Membrane Potential (mV)', fontsize=20)
ax_c.set_ylabel('Membrane Potential  (mV)', fontsize=20)
ax_c.set_xlabel('Time (ms)', fontsize=20)
ax_d.set_xlabel('Time (ms)', fontsize=20)

plt.savefig('out.png', dpi=300)
